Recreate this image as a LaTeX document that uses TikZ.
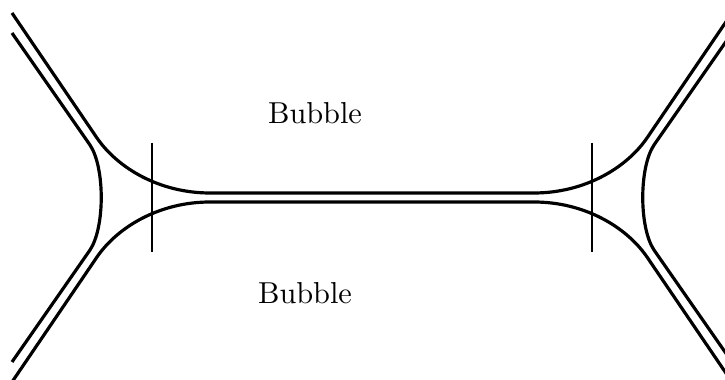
\documentclass[tikz,border=0pt]{standalone}
\usetikzlibrary{positioning}
\tikzset{
	filmline/.style={line width=1.05pt, line join=round}
}
\tikzset{
	cutline/.style={line width=0.6pt}
}

\begin{document}
\begin{tikzpicture}[x=0.33pt, y=0.33pt]

			\clip (-372,-182.5) rectangle (353,197.5);

			\begin{scope}

				\coordinate (oA) at (-360,184.5);
				\coordinate (kA) at (-275,59.5);
				\coordinate (fA) at (-162,4.5);
				\coordinate (fB) at (162,4.5);
				\coordinate (kB) at (275,59.5);
				\coordinate (oB) at (360,184.5);

				\coordinate (oC) at (-360,-184.5);
				\coordinate (kC) at (-275,-59.5);
				\coordinate (fC) at (-162,-4.5);
				\coordinate (fD) at (162,-4.5);
				\coordinate (kD) at (275,-59.5);
				\coordinate (oD) at (360,-184.5);

				\draw[filmline] (oA) -- (kA) .. controls (-254,29) and (-212,4.5) .. (fA) -- (fB)
					.. controls (212,4.5) and (254,29) .. (kB) -- (oB);
				\draw[filmline] (oC) -- (kC) .. controls (-254,-29) and (-212,-4.5) .. (fC) -- (fD)
					.. controls (212,-4.5) and (254,-29) .. (kD) -- (oD);

			\end{scope}

			\begin{scope}

				\coordinate (iA) at (-360,164.5);
				\coordinate (jA) at (-282,52.5);
				\coordinate (jC) at (-282,-52.5);
				\coordinate (iC) at (-360,-164.5);

				\coordinate (iB) at (360,164.5);
				\coordinate (jB) at (282,52.5);
				\coordinate (jD) at (282,-52.5);
				\coordinate (iD) at (360,-164.5);

				\draw[filmline] (iA) -- (jA) .. controls (-267,30) and (-267,-30) .. (jC) -- (iC);
				\draw[filmline] (iB) -- (jB) .. controls (267,30) and (267,-30) .. (jD) -- (iD);

			\end{scope}

			\begin{scope}

				\coordinate (cA) at (-220,54.5);
				\coordinate (cC) at (-220,-54.5);
				\coordinate (cB) at (220,54.5);
				\coordinate (cD) at (220,-54.5);

				\draw[cutline] (cA) -- (cC);
				\draw[cutline] (cB) -- (cD);

				\node (bubbleA) at (-57,84.5) {Bubble};
				\node (bubbleB) at (-67,-95.5) {Bubble};

			\end{scope}

		\end{tikzpicture}
\end{document}
